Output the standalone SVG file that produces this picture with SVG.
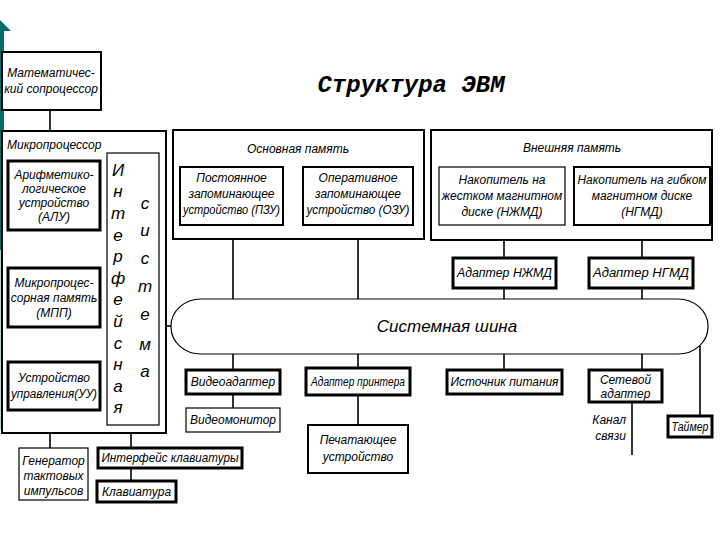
<svg xmlns="http://www.w3.org/2000/svg" width="720" height="540" viewBox="0 0 720 540">
<style>
.b{fill:#fff;stroke:#000}
.s1{stroke-width:1.2}
.s2{stroke-width:2}
.s3{stroke-width:3}
text{font-family:"Liberation Sans",Arial,sans-serif;font-style:italic;font-size:12px;fill:#000}
.c{text-anchor:middle}
.v{font-size:17px;text-anchor:middle}
.ln{stroke:#000;stroke-width:1.6;fill:none}
</style>
<rect width="720" height="540" fill="#fff"/>
<g id="decor">
<polygon points="0,20 11,31 4,31 4,250 0,250" fill="#0b6b6b"/>
<rect x="0" y="250" width="2" height="180" fill="#b9d3d3"/>
</g>
<text x="411" y="92" style="font-family:'Liberation Mono',monospace;font-weight:bold;font-size:24px;text-anchor:middle">Структура ЭВМ</text>

<g id="connectors">
<line class="ln" x1="50" y1="110" x2="50" y2="131"/>
<line class="ln" x1="233" y1="225" x2="233" y2="299"/>
<line class="ln" x1="358" y1="225" x2="358" y2="299"/>
<line class="ln" x1="504" y1="225" x2="504" y2="258"/>
<line class="ln" x1="504" y1="288" x2="504" y2="299"/>
<line class="ln" x1="642" y1="225" x2="642" y2="258"/>
<line class="ln" x1="642" y1="288" x2="642" y2="299"/>
<line class="ln" x1="166" y1="326" x2="171" y2="326"/>
<line class="ln" x1="233" y1="354" x2="233" y2="370"/>
<line class="ln" x1="233" y1="394" x2="233" y2="408"/>
<line class="ln" x1="358" y1="354" x2="358" y2="368"/>
<line class="ln" x1="358" y1="395" x2="358" y2="425"/>
<line class="ln" x1="504" y1="354" x2="504" y2="370"/>
<line class="ln" x1="642" y1="354" x2="642" y2="370"/>
<line class="ln" x1="700" y1="346" x2="700" y2="416"/>
<line class="ln" x1="632" y1="402" x2="632" y2="455"/>
<line class="ln" x1="50" y1="433" x2="50" y2="448"/>
<line class="ln" x1="131" y1="433" x2="131" y2="448"/>
<line class="ln" x1="131" y1="468" x2="131" y2="481"/>
</g>

<g id="coprocessor">
<rect class="b s2" x="2" y="52" width="99" height="58"/>
<text class="c" x="51" y="77">Математичес-</text>
<text class="c" x="51" y="93">кий сопроцессор</text>
</g>

<g id="microprocessor">
<rect class="b s2" x="2" y="131" width="164" height="302"/>
<text x="7" y="149">Микропроцессор</text>
</g>
<g id="alu">
<rect class="b s3" x="8" y="161" width="92" height="69"/>
<text class="c" x="54" y="179">Арифметико-</text>
<text class="c" x="54" y="193">логическое</text>
<text class="c" x="54" y="207">устройство</text>
<text class="c" x="54" y="221">(АЛУ)</text>
</g>
<g id="mpp">
<rect class="b s3" x="8" y="268" width="92" height="59"/>
<text class="c" x="54" y="287">Микропроцес-</text>
<text class="c" x="54" y="302">сорная память</text>
<text class="c" x="54" y="317">(МПП)</text>
</g>
<g id="uu">
<rect class="b s3" x="8" y="362" width="92" height="48"/>
<text class="c" x="54" y="382">Устройство</text>
<text class="c" x="54" y="398" textLength="86" lengthAdjust="spacingAndGlyphs">управления(УУ)</text>
</g>
<g id="interface">
<rect class="b s1" x="107" y="153" width="52" height="272"/>
<text class="v" x="118" y="176">И</text>
<text class="v" x="118" y="197">н</text>
<text class="v" x="118" y="219">т</text>
<text class="v" x="118" y="241">е</text>
<text class="v" x="118" y="262">р</text>
<text class="v" x="118" y="284">ф</text>
<text class="v" x="118" y="305">е</text>
<text class="v" x="118" y="327">й</text>
<text class="v" x="118" y="349">с</text>
<text class="v" x="118" y="370">н</text>
<text class="v" x="118" y="392">а</text>
<text class="v" x="118" y="413">я</text>
<text class="v" x="145" y="209">с</text>
<text class="v" x="145" y="236">и</text>
<text class="v" x="145" y="264">с</text>
<text class="v" x="145" y="292">т</text>
<text class="v" x="145" y="320">е</text>
<text class="v" x="145" y="350">м</text>
<text class="v" x="145" y="377">а</text>
</g>

<g id="main-memory">
<rect class="b s2" x="173" y="130" width="251" height="109"/>
<text class="c" x="298" y="153">Основная память</text>
</g>
<g id="rom">
<rect class="b s2" x="180" y="167" width="103" height="58"/>
<text class="c" x="231.5" y="182">Постоянное</text>
<text class="c" x="231.5" y="198">запоминающее</text>
<text class="c" x="231.5" y="214" textLength="97" lengthAdjust="spacingAndGlyphs">устройство (ПЗУ)</text>
</g>
<g id="ram">
<rect class="b s2" x="303" y="167" width="110" height="58"/>
<text class="c" x="358" y="182">Оперативное</text>
<text class="c" x="358" y="198">запоминающее</text>
<text class="c" x="358" y="214" textLength="103" lengthAdjust="spacingAndGlyphs">устройство (ОЗУ)</text>
</g>

<g id="external-memory">
<rect class="b s2" x="431" y="130" width="281" height="110"/>
<text class="c" x="572" y="152">Внешняя память</text>
</g>
<g id="hdd">
<rect class="b s1" x="439" y="167" width="126" height="58"/>
<text class="c" x="502" y="184">Накопитель на</text>
<text class="c" x="502" y="200">жестком магнитном</text>
<text class="c" x="502" y="216">диске  (НЖМД)</text>
</g>
<g id="fdd">
<rect class="b s2" x="574" y="167" width="136" height="58"/>
<text class="c" x="642" y="184" textLength="129" lengthAdjust="spacingAndGlyphs">Накопитель на гибком</text>
<text class="c" x="642" y="200">магнитном диске</text>
<text class="c" x="642" y="216">(НГМД)</text>
</g>
<g id="hdd-adapter">
<rect class="b s3" x="453" y="258" width="103" height="30"/>
<text class="c" x="504.5" y="277" textLength="95" lengthAdjust="spacingAndGlyphs">Адаптер НЖМД</text>
</g>
<g id="fdd-adapter">
<rect class="b s3" x="589" y="258" width="104" height="30"/>
<text class="c" x="641" y="277" textLength="96" lengthAdjust="spacingAndGlyphs">Адаптер НГМД</text>
</g>

<g id="bus">
<rect class="b s1" x="171" y="299" width="537" height="55" rx="30" ry="27"/>
<text class="c" x="447" y="332" style="font-size:17px">Системная шина</text>
</g>

<g id="video-adapter">
<rect class="b s3" x="186" y="370" width="94" height="24"/>
<text class="c" x="233" y="386">Видеоадаптер</text>
</g>
<g id="monitor">
<rect class="b s1" x="186" y="408" width="94" height="24"/>
<text class="c" x="233" y="424">Видеомонитор</text>
</g>
<g id="printer-adapter">
<rect class="b s3" x="306" y="368" width="104" height="27"/>
<text class="c" x="358" y="386" textLength="94" lengthAdjust="spacingAndGlyphs">Адаптер принтера</text>
</g>
<g id="printer">
<rect class="b s2" x="308" y="425" width="100" height="48"/>
<text class="c" x="358" y="444">Печатающее</text>
<text class="c" x="358" y="461">устройство</text>
</g>
<g id="power">
<rect class="b s3" x="447" y="370" width="115" height="24"/>
<text class="c" x="504.5" y="386" textLength="108" lengthAdjust="spacingAndGlyphs">Источник питания</text>
</g>
<g id="network-adapter">
<rect class="b s3" x="589" y="370" width="73" height="32"/>
<text class="c" x="625.5" y="384">Сетевой</text>
<text class="c" x="625.5" y="398">адаптер</text>
</g>
<text x="626" y="424" style="text-anchor:end">Канал</text>
<text x="626" y="440" style="text-anchor:end">связи</text>
<g id="timer">
<rect class="b s3" x="668" y="416" width="44" height="21"/>
<text class="c" x="690" y="431" textLength="37" lengthAdjust="spacingAndGlyphs">Таймер</text>
</g>

<g id="clock">
<rect class="b s1" x="19" y="448" width="69" height="52"/>
<text class="c" x="53.5" y="465">Генератор</text>
<text class="c" x="53.5" y="480">тактовых</text>
<text class="c" x="53.5" y="495">импульсов</text>
</g>
<g id="kbd-interface">
<rect class="b s3" x="98" y="448" width="144" height="20"/>
<text class="c" x="170" y="462" textLength="137" lengthAdjust="spacingAndGlyphs">Интерфейс клавиатуры</text>
</g>
<g id="keyboard">
<rect class="b s3" x="97" y="481" width="79" height="21"/>
<text class="c" x="136.5" y="496">Клавиатура</text>
</g>
</svg>
